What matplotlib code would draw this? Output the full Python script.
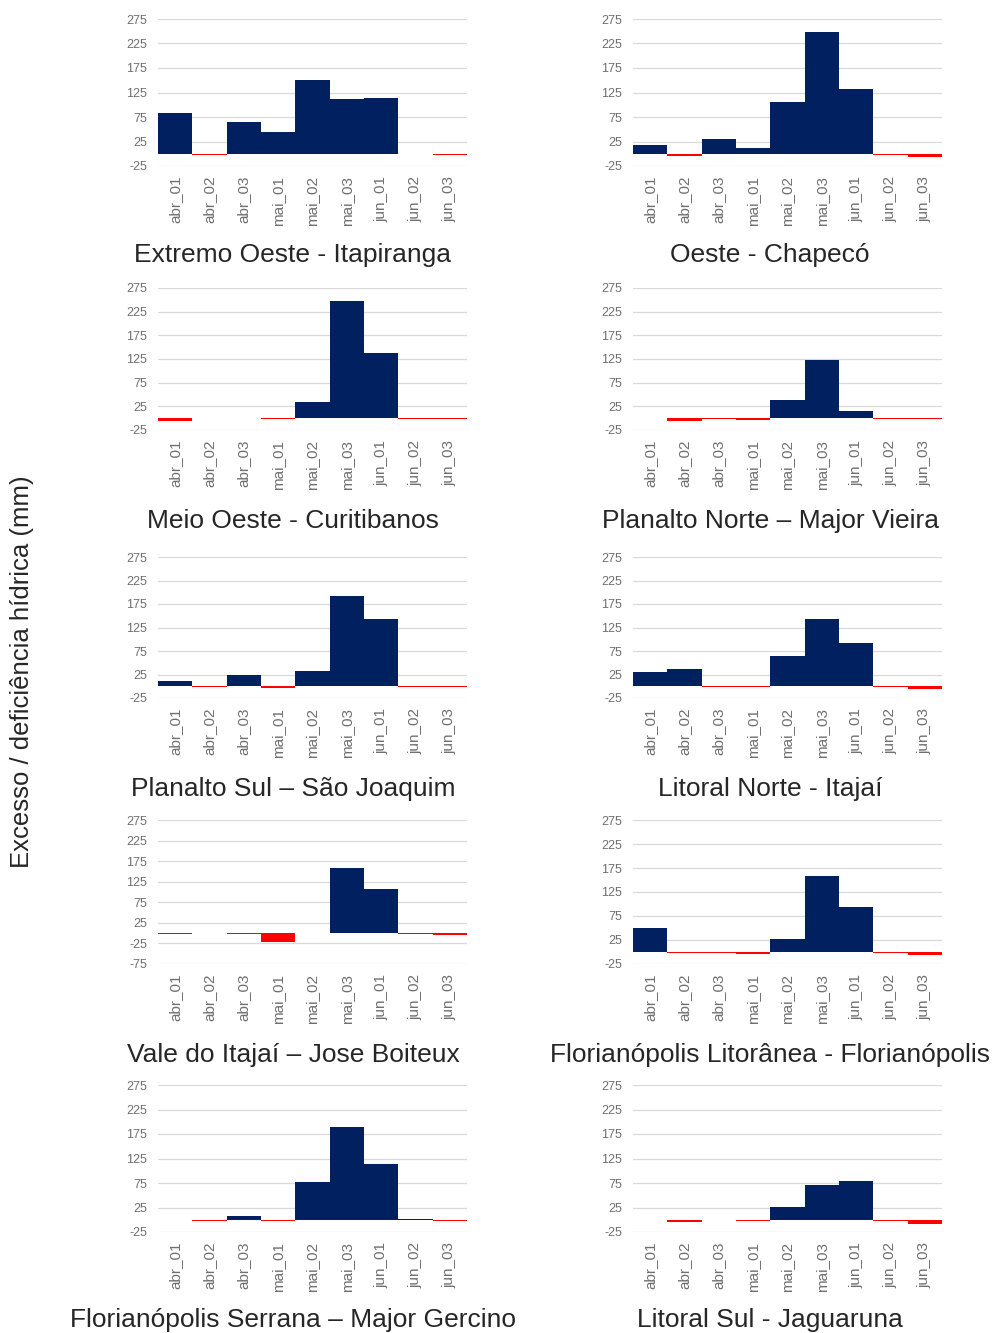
import matplotlib.pyplot as plt
import numpy as np

plt.rcParams['font.family'] = ['Liberation Sans', 'DejaVu Sans']
plt.rcParams['axes.unicode_minus'] = False

# decêndios (10-day periods) on the x axis
periods = ["abr_01", "abr_02", "abr_03", "mai_01", "mai_02",
           "mai_03", "jun_01", "jun_02", "jun_03"]

# excesso (+) / deficiência (-) hídrica, mm, per station
extremo_oeste = [83, -3, 65, 44, 150, 112, 113, 0, -3]
oeste = [18, -4, 30, 12, 105, 249, 133, -2, -6]
meio_oeste = [-5, 0, 0, -2, 34, 248, 138, -2, -2]
planalto_norte = [0, -6, -2, -4, 39, 123, 15, -2, -2]
planalto_sul = [12, -2, 23, -3, 32, 192, 143, -2, -2]
litoral_norte = [31, 37, -2, -2, 65, 143, 91, -2, -5]
vale_itajai = [-3, 0, -2, -22, 0, 159, 107, -2, -4]
floripa_litoranea = [50, -2, -2, -4, 28, 159, 93, -2, -7]
floripa_serrana = [0, -3, 8, -3, 78, 189, 114, 2, -3]
litoral_sul = [0, -5, 0, -3, 26, 71, 79, -3, -8]

titles = [
    "Extremo Oeste - Itapiranga", "Oeste - Chapecó",
    "Meio Oeste - Curitibanos", "Planalto Norte – Major Vieira",
    "Planalto Sul – São Joaquim", "Litoral Norte - Itajaí",
    "Vale do Itajaí – Jose Boiteux", "Florianópolis Litorânea - Florianópolis",
    "Florianópolis Serrana – Major Gercino", "Litoral Sul - Jaguaruna",
]
series = [extremo_oeste, oeste, meio_oeste, planalto_norte, planalto_sul,
          litoral_norte, vale_itajai, floripa_litoranea, floripa_serrana,
          litoral_sul]
y_min = [-25, -25, -25, -25, -25, -25, -75, -25, -25, -25]

BLUE = "#002060"
RED = "#ff0000"
W, H = 992, 1333

fig = plt.figure(figsize=(W / 100, H / 100), dpi=100)

# panel placement in pixels
col_x = [158, 633]
col_w = 309
row_y = [(19, 166), (288, 430), (557, 698), (820, 964), (1085, 1232)]
title_x = [293, 770]
title_y = [255, 521, 789, 1055, 1320]

x = np.arange(len(periods))

for i, (values, title) in enumerate(zip(series, titles)):
    row, col = divmod(i, 2)
    top, bottom = row_y[row]
    ax = fig.add_axes([col_x[col] / W, 1 - bottom / H,
                       col_w / W, (bottom - top) / H])

    values = np.array(values)
    colors = [BLUE if v >= 0 else RED for v in values]
    ax.bar(x, values, width=1.0, color=colors, linewidth=0)

    ax.set_xlim(-0.5, len(periods) - 0.5)
    ax.set_ylim(y_min[i], 275)
    ax.set_yticks(np.arange(y_min[i], 276, 50))
    ax.set_xticks(x)
    ax.set_xticklabels(periods, rotation=90)

    ax.grid(axis="y", color="#d9d9d9", linewidth=0.9)
    ax.set_axisbelow(True)
    for spine in ax.spines.values():
        spine.set_visible(False)
    ax.tick_params(axis="both", length=0, colors="#6f6f6f")
    ax.tick_params(axis="y", labelsize=9, pad=8)
    ax.tick_params(axis="x", labelsize=11, pad=7)

    fig.text(title_x[col] / W, 1 - title_y[row] / H, title,
             ha="center", va="center", fontsize=19, color="#262626")

fig.text(22 / W, 1 - 672 / H, "Excesso / deficiência hídrica (mm)",
         rotation=90, ha="center", va="center", fontsize=18.5, color="#262626")

fig.savefig("out.png", dpi=100)
